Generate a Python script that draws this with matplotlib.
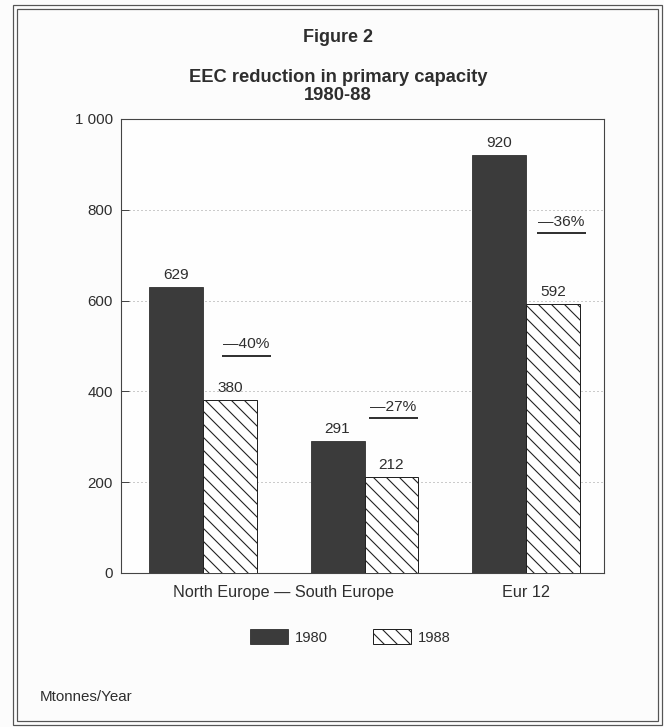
import matplotlib
matplotlib.use("Agg")
import matplotlib.pyplot as plt
import numpy as np
from matplotlib.patches import Rectangle, Patch

# ---- data ----
regions = ["North Europe", "South Europe", "Eur 12"]
cap_1980 = [629, 291, 920]
cap_1988 = [380, 212, 592]
series_names = ["1980", "1988"]
x_tick_labels = ["North Europe \u2014 South Europe", "Eur 12"]
y_ticks = [0, 200, 400, 600, 800, 1000]
y_tick_labels = ["0", "200", "400", "600", "800", "1 000"]

DPI = 78
W, H = 664, 727


def pt(px):
    return px * 72.0 / DPI


FONT = ["Liberation Sans", "DejaVu Sans"]
plt.rcParams["font.family"] = FONT
TXT = "#2e2e2e"
DARK = "#3b3b3b"
HATCH = "\\\\"
plt.rcParams["hatch.linewidth"] = pt(1.1)
plt.rcParams["hatch.color"] = "#222222"

fig = plt.figure(figsize=(W / DPI, H / DPI), dpi=DPI, facecolor="#fcfcfc")

# axes placed in pixel geometry
L, R, T, B = 121, 604, 119, 573
ax = fig.add_axes([L / W, 1 - B / H, (R - L) / W, (B - T) / H])
ax.set_facecolor("#fefefe")

x = np.arange(len(regions))
width = 0.334
ax.bar(x - width / 2, cap_1980, width, color=DARK, edgecolor="#2a2a2a",
       linewidth=pt(0.8), zorder=3, label=series_names[0])
ax.bar(x + width / 2, cap_1988, width, color="white", edgecolor="#222222",
       linewidth=pt(1.0), hatch=HATCH, zorder=3, label=series_names[1])

ax.set_xlim(-0.508, 2.483)
ax.set_ylim(0, 1000)
ax.set_yticks(y_ticks)
ax.set_yticklabels(y_tick_labels, fontsize=pt(15.2), color=TXT)
ax.set_xticks([0.5, 2])
ax.set_xticklabels(x_tick_labels, fontsize=pt(16.2), color=TXT)
ax.tick_params(axis="x", length=0, pad=pt(12))
ax.tick_params(axis="y", direction="in", length=pt(8), width=pt(1),
               color="#444444", pad=pt(8))

ax.yaxis.grid(True, linestyle=(0, (1, 3)), color="#9a9a9a", linewidth=pt(1))
ax.set_axisbelow(True)
for gl, v in zip(ax.yaxis.get_gridlines(), y_ticks):
    if v in (0, 1000):
        gl.set_visible(False)

for s in ax.spines.values():
    s.set_color("#444444")
    s.set_linewidth(pt(1.1))

# value labels
for xi, v in zip(x - width / 2, cap_1980):
    ax.annotate(str(v), (xi, v), xytext=(0, pt(5)), textcoords="offset points",
                ha="center", va="bottom", fontsize=pt(15.4), color=TXT)
for xi, v in zip(x + width / 2, cap_1988):
    ax.annotate(str(v), (xi, v), xytext=(0, pt(5)), textcoords="offset points",
                ha="center", va="bottom", fontsize=pt(15.4), color=TXT)

# percentage change annotations
pct = [round((b - a) / a * 100) for a, b in zip(cap_1980, cap_1988)]
ann_dx = [0.27, 0.18, 0.22]
ann_y = [504, 366, 773]
for xi, p, dx, yy in zip(x, pct, ann_dx, ann_y):
    cx = xi + dx
    ax.text(cx, yy, "\u2014%d%%" % abs(p), ha="center", va="center",
            fontsize=pt(15.5), color=TXT, zorder=4)
    ax.plot([cx - 0.15, cx + 0.15], [yy - 25, yy - 25], color="#333333",
            linewidth=pt(2), solid_capstyle="butt", zorder=4)

# titles
fig.text(338 / W, 1 - 37 / H, "Figure 2", ha="center", va="center",
         fontsize=pt(18), fontweight="bold", color=TXT)
fig.text(338 / W, 1 - 77 / H, "EEC reduction in primary capacity",
         ha="center", va="center", fontsize=pt(18.4), fontweight="bold",
         color=TXT)
fig.text(338 / W, 1 - 96 / H, "1980-88", ha="center", va="center",
         fontsize=pt(18.4), fontweight="bold", color=TXT)

# legend
handles = [Patch(facecolor=DARK, edgecolor="#2a2a2a", linewidth=pt(0.8)),
           Patch(facecolor="white", edgecolor="#222222", linewidth=pt(1),
                 hatch=HATCH)]
fs_leg = pt(14.8)
leg = fig.legend(handles, series_names, loc="center", ncol=2,
                 bbox_to_anchor=(350 / W, 1 - 637 / H), frameon=False,
                 fontsize=fs_leg, handlelength=38 / 14.8,
                 handleheight=17 / 14.8, handletextpad=7 / 14.8,
                 columnspacing=45 / 14.8, borderpad=0, borderaxespad=0)
for t in leg.get_texts():
    t.set_color(TXT)

fig.text(40 / W, 1 - 697 / H, "Mtonnes/Year", ha="left", va="center",
         fontsize=pt(15.2), color=TXT)

# double frame around the figure
for (x0, y0, x1, y1) in [(13, 5, 662, 725), (17, 9, 658, 721)]:
    fig.patches.append(Rectangle((x0 / W, 1 - y1 / H), (x1 - x0) / W,
                                 (y1 - y0) / H, transform=fig.transFigure,
                                 fill=False, edgecolor="#555555",
                                 linewidth=pt(1.2)))

fig.savefig("out.png", dpi=DPI, facecolor=fig.get_facecolor())
